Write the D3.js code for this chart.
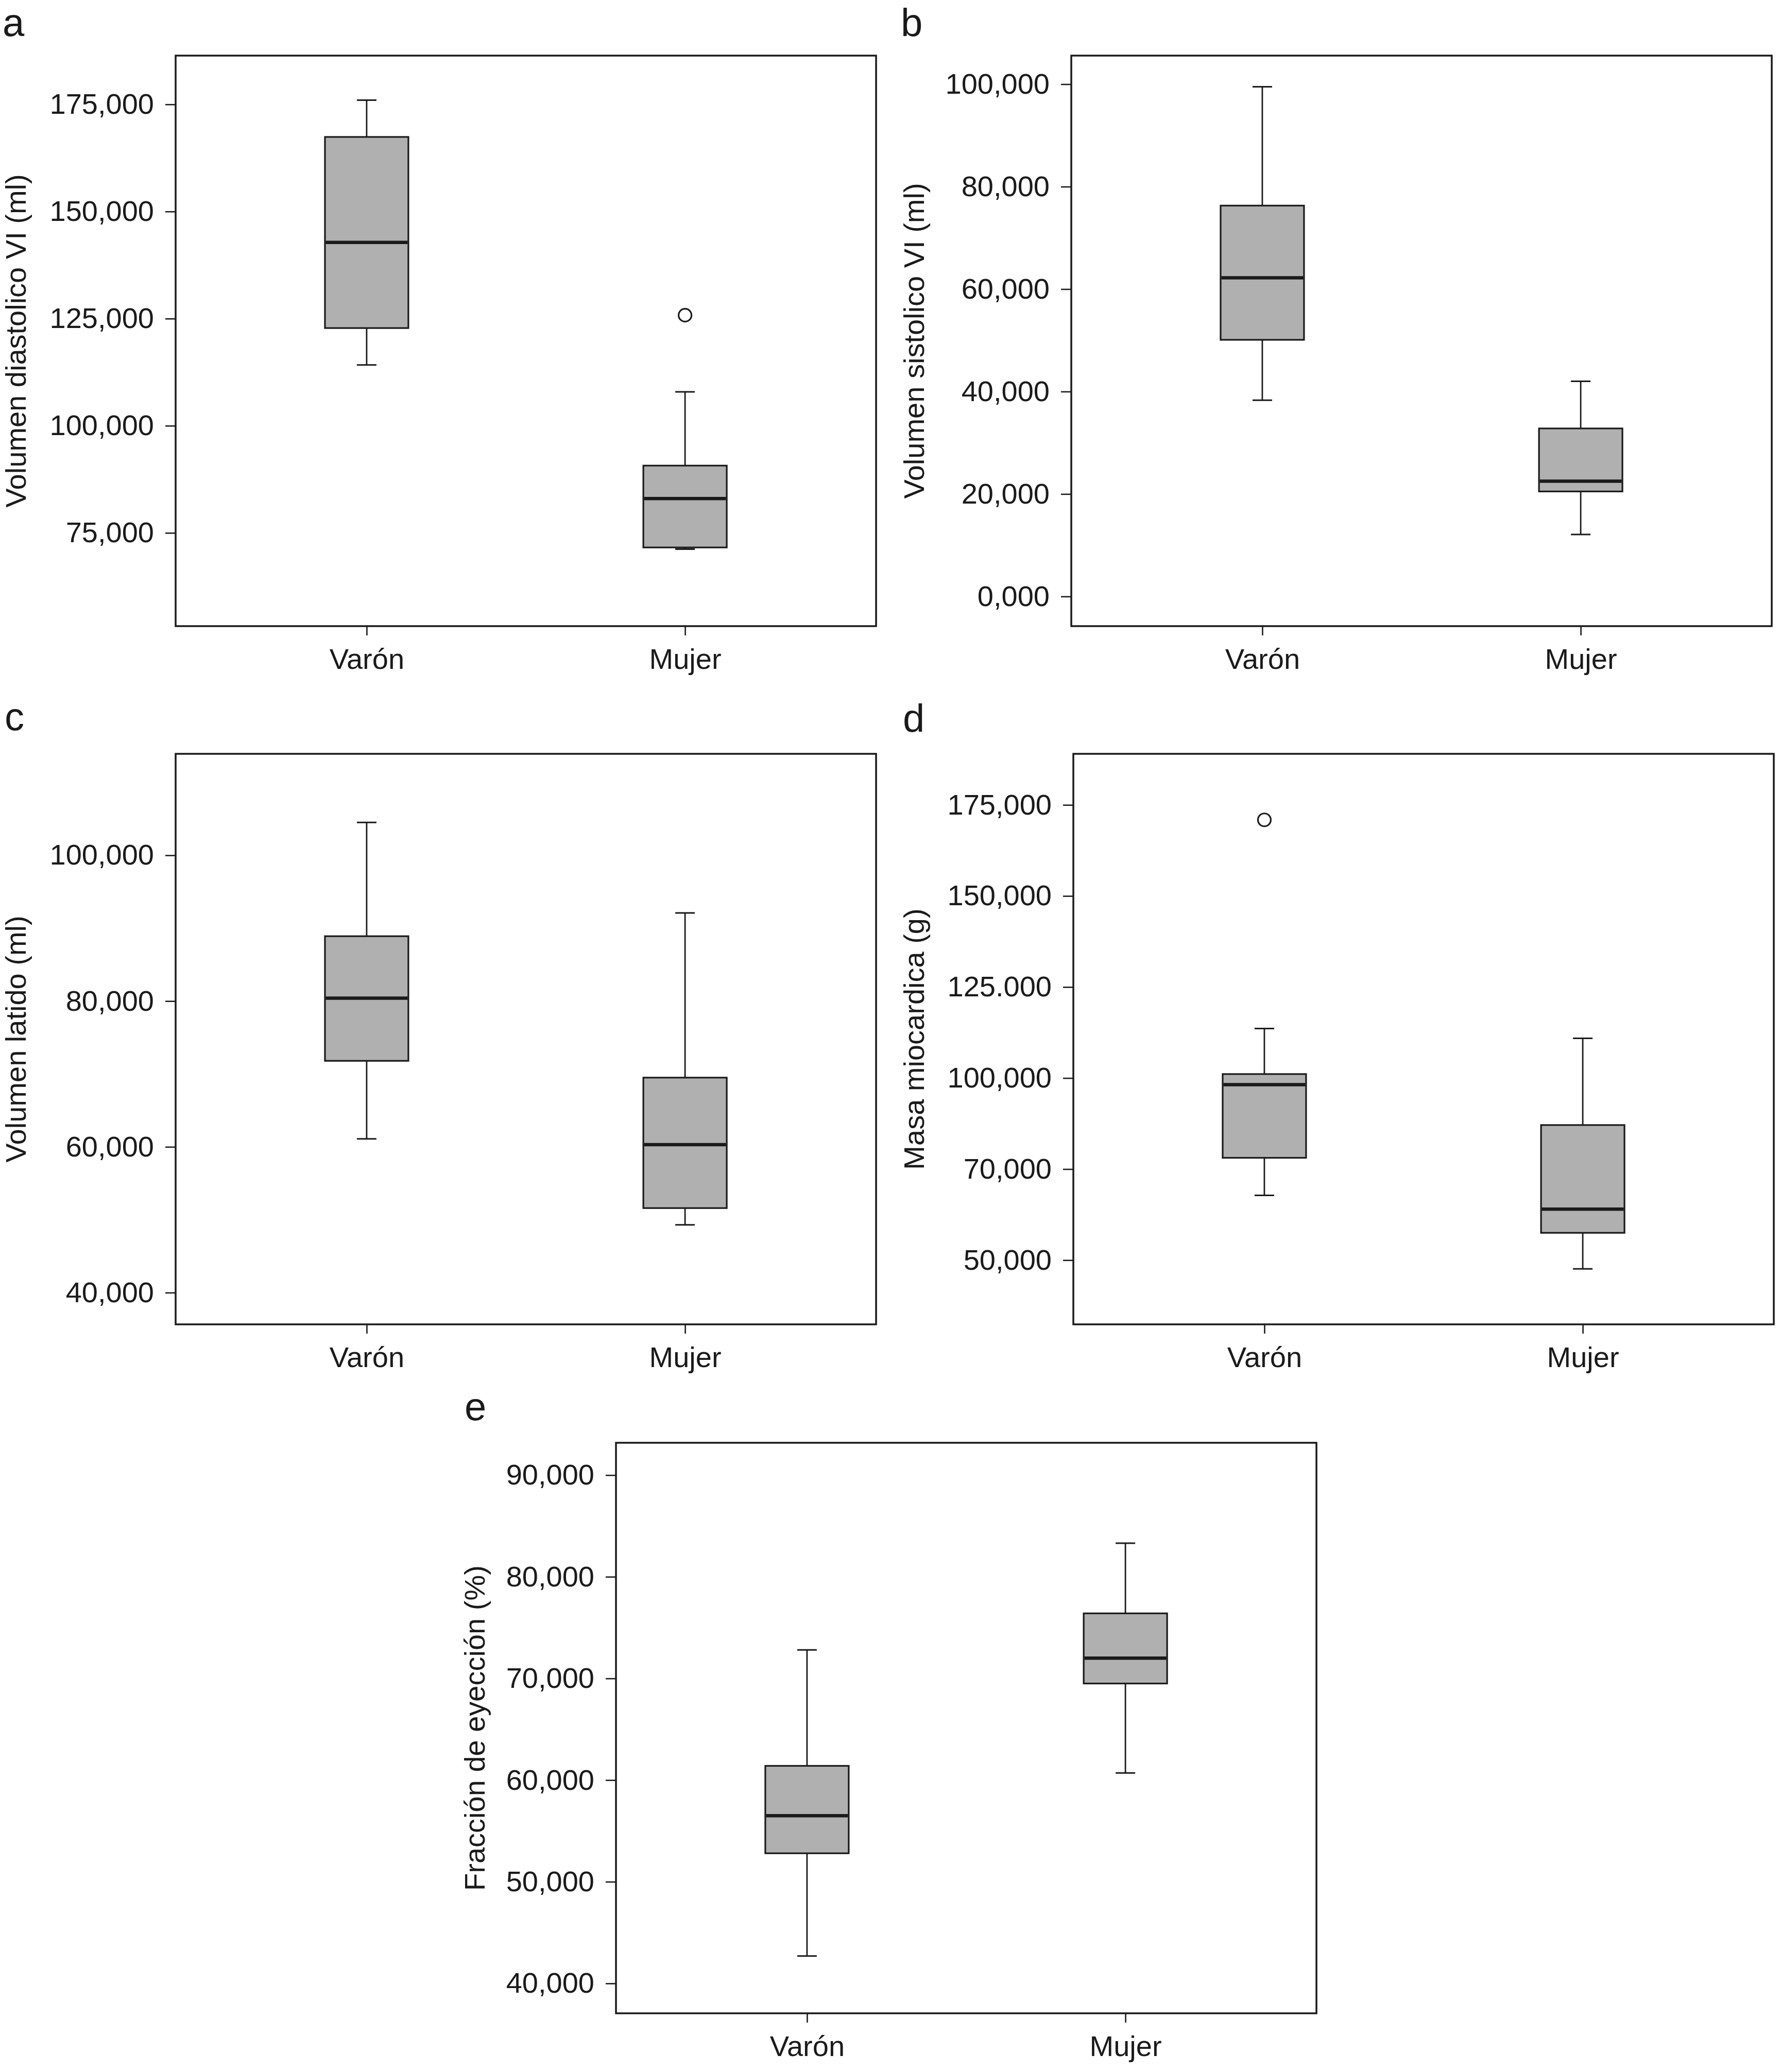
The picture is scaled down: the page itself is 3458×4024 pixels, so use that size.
<!DOCTYPE html>
<html>
<head>
<meta charset="utf-8">
<script src="https://d3js.org/d3.v7.min.js"></script>
<style>
  body { margin: 0; background: #fff; }
  text { font-family: "Liberation Sans", Arial, sans-serif; fill: #1a1a1a; }
</style>
</head>
<body>
<svg id="vis"></svg>
<script>
  // Data: one entry per panel (a..e)
  var categories = ['Varón', 'Mujer'];
  var panelLetters = ['a', 'b', 'c', 'd', 'e'];
  var yTitles = [
    'Volumen diastolico VI (ml)',
    'Volumen sistolico VI (ml)',
    'Volumen latido (ml)',
    'Masa miocardica (g)',
    'Fracción de eyección (%)'
  ];
  var yDomains = [[53.24, 186.38], [-5.79, 105.58], [35.65, 113.92], [32.37, 189.03], [37.06, 93.18]];
  var yTicks = [
    [75, 100, 125, 150, 175],
    [0, 20, 40, 60, 80, 100],
    [40, 60, 80, 100],
    [50, 75, 100, 125, 150, 175],
    [40, 50, 60, 70, 80, 90]
  ];
  var yTickLabels = [
    ['75,000', '100,000', '125,000', '150,000', '175,000'],
    ['0,000', '20,000', '40,000', '60,000', '80,000', '100,000'],
    ['40,000', '60,000', '80,000', '100,000'],
    ['50,000', '70,000', '100,000', '125.000', '150,000', '175,000'],
    ['40,000', '50,000', '60,000', '70,000', '80,000', '90,000']
  ];
  // [min whisker, Q1, median, Q3, max whisker]
  var varonStats = [
    [114.2, 122.8, 142.8, 167.4, 176.0],
    [38.3, 50.1, 62.2, 76.3, 99.5],
    [61.1, 71.8, 80.4, 88.9, 104.5],
    [67.8, 78.1, 98.2, 101.1, 113.6],
    [42.7, 52.8, 56.5, 61.4, 72.8]
  ];
  var mujerStats = [
    [71.2, 71.6, 83.0, 90.7, 107.9],
    [12.1, 20.5, 22.5, 32.8, 42.0],
    [49.3, 51.6, 60.3, 69.5, 92.1],
    [47.6, 57.5, 64.0, 87.1, 110.9],
    [60.7, 69.5, 72.0, 76.4, 83.3]
  ];
  var varonOutliers = [[], [], [], [170.9], []];
  var mujerOutliers = [[125.8], [], [], [], []];

  // Layout: plot frame origin, title offset and panel letter position
  var frameX = [341, 2080, 341, 2084, 1196];
  var frameY = [108, 108, 1464, 1464, 2802];
  var titleOffset = [291, 286, 291, 290, 255];
  var letterPos = [[5, 70], [1749, 70], [9, 1418], [1753, 1421], [902, 2758]];
  var W = 1360, H = 1108;
  var ink = '#1a1a1a';

  var svg = d3.select('#vis')
    .attr('width', 3458)
    .attr('height', 4024)

  panelLetters.forEach(function(letter, p) {
    var g = svg.append('g')
      .attr('transform', 'translate(' + frameX[p] + ',' + frameY[p] + ')')

    var x = d3.scalePoint()
      .domain(categories)
      .range([0, W])
      .padding(0.6)

    var y = d3.scaleLinear()
      .domain(yDomains[p])
      .range([H, 0])

    var boxW = x.step() * 0.262
    var capW = 38

    // Y axis
    var yAxis = g.append('g')
      .call(d3.axisLeft(y)
        .tickValues(yTicks[p])
        .tickFormat(function(d, i) { return yTickLabels[p][i] })
        .tickSize(20)
        .tickPadding(22))
    yAxis.select('.domain').remove()
    yAxis.selectAll('line').attr('stroke', ink).attr('stroke-width', 2.6)
    yAxis.selectAll('text').attr('font-size', 56).attr('fill', ink)
      .style('font-family', '"Liberation Sans", Arial, sans-serif')

    // X axis
    var xAxis = g.append('g')
      .attr('transform', 'translate(0,' + H + ')')
      .call(d3.axisBottom(x).tickSize(18).tickPadding(25))
    xAxis.select('.domain').remove()
    xAxis.selectAll('line').attr('stroke', ink).attr('stroke-width', 2.6)
    xAxis.selectAll('text').attr('font-size', 56).attr('fill', ink)
      .style('font-family', '"Liberation Sans", Arial, sans-serif')

    // Y title
    g.append('text')
      .attr('transform', 'translate(' + (-titleOffset[p]) + ',' + (H / 2) + ') rotate(-90)')
      .attr('text-anchor', 'middle')
      .attr('font-size', 56)
      .text(yTitles[p])

    // Boxes
    var stats = [varonStats[p], mujerStats[p]]
    var outliers = [varonOutliers[p], mujerOutliers[p]]

    categories.forEach(function(cat, i) {
      var s = stats[i]
      var cx = x(cat)

      // whiskers
      g.append('line')
        .attr('x1', cx).attr('x2', cx)
        .attr('y1', y(s[4])).attr('y2', y(s[3]))
        .attr('stroke', ink).attr('stroke-width', 2.8)
      g.append('line')
        .attr('x1', cx).attr('x2', cx)
        .attr('y1', y(s[1])).attr('y2', y(s[0]))
        .attr('stroke', ink).attr('stroke-width', 2.8)
      g.append('line')
        .attr('x1', cx - capW / 2).attr('x2', cx + capW / 2)
        .attr('y1', y(s[4])).attr('y2', y(s[4]))
        .attr('stroke', ink).attr('stroke-width', 3)
      g.append('line')
        .attr('x1', cx - capW / 2).attr('x2', cx + capW / 2)
        .attr('y1', y(s[0])).attr('y2', y(s[0]))
        .attr('stroke', ink).attr('stroke-width', 3)

      // box
      g.append('rect')
        .attr('x', cx - boxW / 2)
        .attr('y', y(s[3]))
        .attr('width', boxW)
        .attr('height', y(s[1]) - y(s[3]))
        .attr('fill', '#b0b0b0')
        .attr('stroke', ink)
        .attr('stroke-width', 3.2)

      // median
      g.append('line')
        .attr('x1', cx - boxW / 2 + 1.5).attr('x2', cx + boxW / 2 - 1.5)
        .attr('y1', y(s[2])).attr('y2', y(s[2]))
        .attr('stroke', ink).attr('stroke-width', 6.5)

      // outliers
      g.selectAll(null)
        .data(outliers[i])
        .enter().append('circle')
        .attr('cx', cx)
        .attr('cy', function(d) { return y(d) })
        .attr('r', 12.5)
        .attr('fill', 'white')
        .attr('stroke', ink)
        .attr('stroke-width', 3.2)
    })

    // Frame
    g.append('rect')
      .attr('width', W)
      .attr('height', H)
      .attr('fill', 'none')
      .attr('stroke', ink)
      .attr('stroke-width', 3.5)

    // Panel letter
    svg.append('text')
      .attr('x', letterPos[p][0])
      .attr('y', letterPos[p][1])
      .attr('font-size', 76)
      .text(letter)
  })
</script>
</body>
</html>
